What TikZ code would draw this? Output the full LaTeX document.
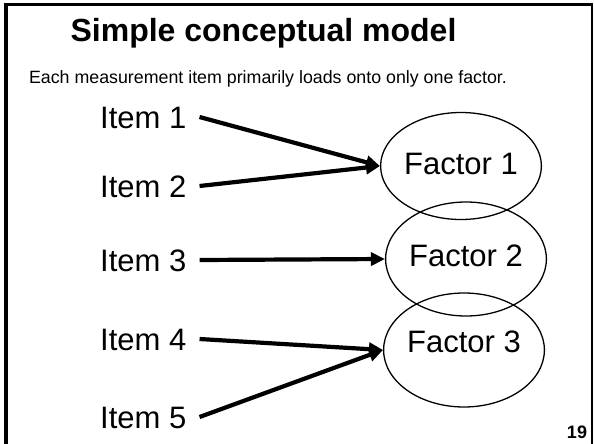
\documentclass[tikz,border=0pt]{standalone}
\usepackage{fontspec}
\setmainfont{Liberation Sans}
\usepackage{tikz}
\usetikzlibrary{
    arrows.meta,
    shapes.geometric
}

\begin{document}
\begin{tikzpicture}[x=1pt,y=-1pt,
    item/.style={anchor=base west, inner xsep=13pt, inner ysep=0pt,
        text height=22pt, text depth=0pt, font=\fontsize{31}{36}\selectfont},
    factor/.style={ellipse, draw, line width=1.3pt, minimum width=150pt,
        inner sep=0pt, text height=22pt, font=\fontsize{31}{36}\selectfont},
    load/.style={line width=4.2pt, -{Triangle[length=14pt,width=13pt]}}
]
\useasboundingbox (0,0) rectangle (594,444);

% Frame
\fill[white] (0,0) rectangle (594,444);
\draw[line width=4pt] (5.5,446) -- (5.5,2.7);
\draw[line width=3pt] (3.5,4.7) -- (592.7,4.7);
\draw[line width=1.5pt] (592,3.2) -- (592,446);

% Title
\node[anchor=base, font=\bfseries\fontsize{32}{38}\selectfont] (title) at (263.5,42) {Simple conceptual model};
\node[anchor=base, font=\fontsize{17.8}{21}\selectfont] (subtitle) at (268,83) {Each measurement item primarily loads onto only one factor.};

% Factors
\node[factor, minimum height=107pt, text depth=5pt] (f1) at (461,166) {Factor 1};
\node[factor, minimum height=114pt, text depth=8pt] (f2) at (466,259) {Factor 2};
\node[factor, minimum height=114pt, text depth=17pt] (f3) at (464,350) {Factor 3};

% Items
\node[item] (i1) at (87,128) {Item 1};
\node[item] (i2) at (87,197) {Item 2};
\node[item] (i3) at (87,271) {Item 3};
\node[item] (i4) at (87,350) {Item 4};
\node[item] (i5) at (87,428) {Item 5};

% Loadings
\draw[load] (i1.east) -- (f1.west);
\draw[load] (i2.east) -- (f1.west);
\draw[load] (i3.east) -- (f2.west);
\draw[load] (i4.east) -- (f3.west);
\draw[load] (i5.east) -- (f3.west);

% Page number
\node[anchor=base, font=\bfseries\fontsize{18}{21}\selectfont] (page) at (577,438) {19};

\end{tikzpicture}
\end{document}
